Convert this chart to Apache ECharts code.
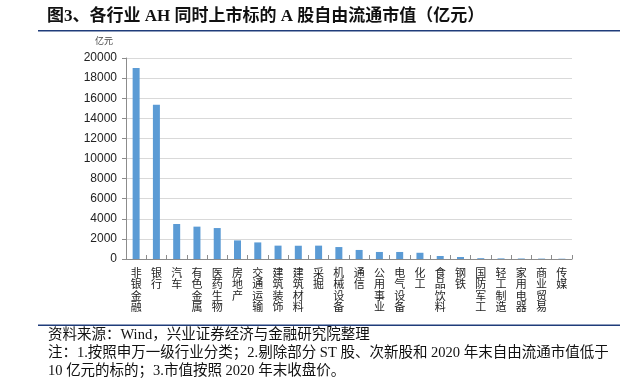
<!DOCTYPE html>
<html>
<head>
<meta charset="utf-8">
<script src="https://cdn.jsdelivr.net/npm/echarts@6/dist/echarts.min.js"></script>
<style>
  html, body { margin: 0; padding: 0; background: #fff; }
  #chart { width: 638px; height: 379px; }
</style>
</head>
<body>
<div id="chart"></div>
<script>
// industries (申万一级), sorted by free-float market cap
var industries = ['非银金融', '银行', '汽车', '有色金属', '医药生物', '房地产', '交通运输', '建筑装饰',
    '建筑材料', '采掘', '机械设备', '通信', '公用事业', '电气设备', '化工', '食品饮料', '钢铁',
    '国防军工', '轻工制造', '家用电器', '商业贸易', '传媒'];
// 亿元
var marketCap = [19000, 15350, 3480, 3220, 3080, 1850, 1650, 1330,
    1320, 1330, 1190, 900, 700, 700, 620, 300, 200,
    80, 60, 50, 40, 30];
var yTicks = { min: 0, max: 20000, step: 2000 };

var titleText = '图3、各行业 AH 同时上市标的 A 股自由流通市值（亿元）';
var sourceText = '资料来源：Wind，兴业证券经济与金融研究院整理';
var noteLine1 = '注：1.按照申万一级行业分类；2.剔除部分 ST 股、次新股和 2020 年末自由流通市值低于';
var noteLine2 = '10 亿元的标的；3.市值按照 2020 年末收盘价。';

var cjk = '"Liberation Serif", "Noto Sans CJK SC", serif';

var myChart = echarts.init(document.getElementById('chart'), null, { renderer: 'canvas' });

var option = {
    backgroundColor: '#fff',
    animation: false,
    grid: {
        left: 126,
        right: 66,
        top: 58,
        bottom: 120
    },
    xAxis: {
        type: 'category',
        data: industries,
        axisLine: { lineStyle: { color: '#8c8c8c', width: 1 } },
        axisTick: { show: true, inside: true, length: 4, lineStyle: { color: '#8c8c8c' } },
        axisLabel: {
            interval: 0,
            margin: 8,
            hideOverlap: false,
            rotate: 0,
            verticalAlign: 'top',
            fontSize: 11,
            lineHeight: 11.5,
            color: '#222',
            fontFamily: '"Noto Sans CJK SC", sans-serif',
            formatter: function (v) { return v.split('').join('\n'); }
        }
    },
    yAxis: {
        type: 'value',
        min: yTicks.min,
        max: yTicks.max,
        interval: yTicks.step,
        axisLine: { show: true, lineStyle: { color: '#8c8c8c', width: 1 } },
        axisTick: { show: true, length: 4, lineStyle: { color: '#8c8c8c' } },
        axisLabel: {
            margin: 9,
            fontSize: 12,
            color: '#222',
            fontFamily: '"Liberation Sans", Arial, sans-serif',
            formatter: function (v) { return String(v); }
        },
        splitLine: { lineStyle: { color: '#d9d9d9', width: 1 } }
    },
    series: [{
        name: '自由流通市值',
        type: 'bar',
        data: marketCap,
        barWidth: 7,
        itemStyle: { color: '#5b9bd5' }
    }],
    graphic: [
        {
            type: 'text', left: 47, top: 8,
            style: { text: titleText, fontSize: 17, fontWeight: 'bold', fill: '#111', fontFamily: cjk }
        },
        {
            type: 'rect', shape: { x: 38, y: 30, width: 582, height: 1.5 },
            style: { fill: '#1f3c7a' }
        },
        {
            type: 'text', left: 95, top: 37,
            style: { text: '亿元', fontSize: 9, fill: '#444', fontFamily: cjk }
        },
        {
            type: 'rect', shape: { x: 38, y: 324.5, width: 582, height: 1.5 },
            style: { fill: '#1f3c7a' }
        },
        {
            type: 'text', left: 48, top: 328,
            style: { text: sourceText, fontSize: 14.5, fill: '#111', fontFamily: cjk }
        },
        {
            type: 'text', left: 48, top: 346,
            style: { text: noteLine1, fontSize: 14.5, fill: '#111', fontFamily: cjk }
        },
        {
            type: 'text', left: 48, top: 364,
            style: { text: noteLine2, fontSize: 14.5, fill: '#111', fontFamily: cjk }
        }
    ]
};

myChart.setOption(option);
</script>
</body>
</html>
